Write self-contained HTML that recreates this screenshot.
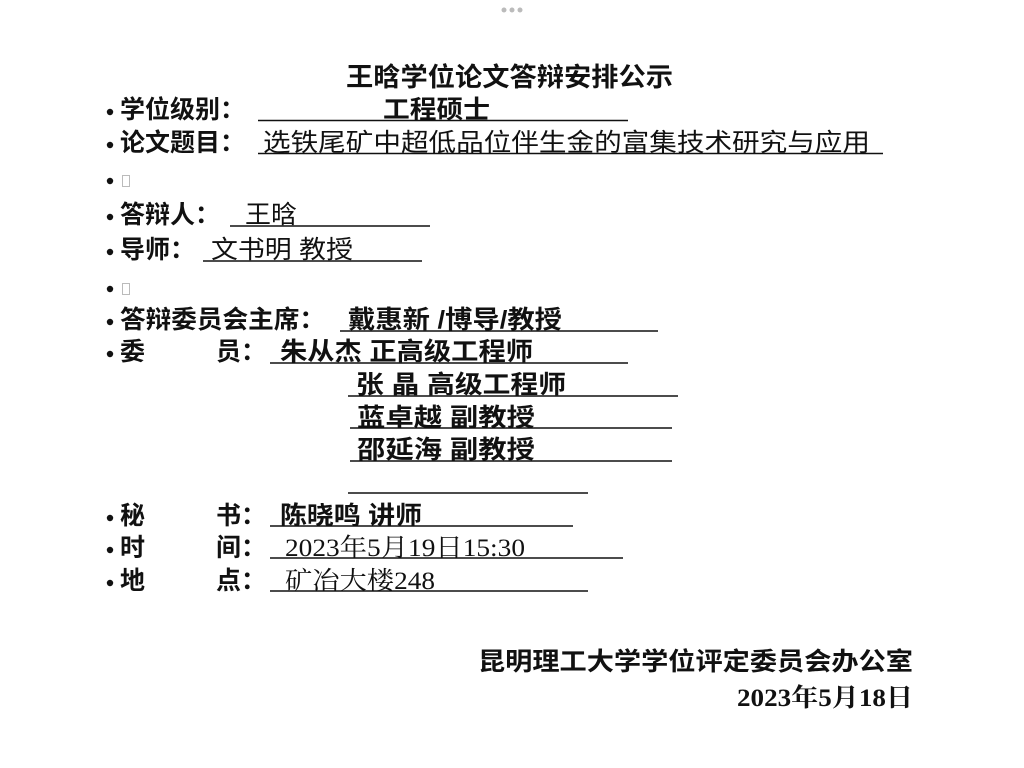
<!DOCTYPE html>
<html><head><meta charset="utf-8"><style>
html,body{margin:0;padding:0;background:#fff;width:1024px;height:768px;overflow:hidden}
svg{display:block}
text{font-family:"Liberation Sans","Noto Sans CJK SC",sans-serif;fill:#111}
.b{font-weight:bold}
.s{font-family:"Liberation Serif","Noto Serif CJK SC",serif}
</style></head><body>
<svg width="1024" height="768" viewBox="0 0 1024 768" xmlns="http://www.w3.org/2000/svg">
<g fill="#bbb"><circle cx="504" cy="10" r="2.5"/><circle cx="512" cy="10" r="2.5"/><circle cx="520" cy="10" r="2.5"/></g>
<text x="346" y="86" font-size="26" class="b" textLength="327" lengthAdjust="spacingAndGlyphs">王晗学位论文答辩安排公示</text>
<g fill="#111">
<circle cx="110" cy="112" r="3.2"/><circle cx="110" cy="145" r="3.2"/><circle cx="110" cy="181" r="3.2"/>
<circle cx="110" cy="217" r="3.2"/><circle cx="110" cy="252" r="3.2"/><circle cx="110" cy="289" r="3.2"/>
<circle cx="110" cy="322" r="3.2"/><circle cx="110" cy="354" r="3.2"/><circle cx="110" cy="518" r="3.2"/>
<circle cx="110" cy="550" r="3.2"/><circle cx="110" cy="583" r="3.2"/>
</g>
<rect x="122.5" y="175.5" width="7" height="11" fill="none" stroke="#bbb"/>
<rect x="122.5" y="283.5" width="7" height="11" fill="none" stroke="#bbb"/>
<g font-size="25" class="b">
<text x="120" y="118" textLength="125" lengthAdjust="spacingAndGlyphs">学位级别：</text>
<text x="120" y="151" textLength="125" lengthAdjust="spacingAndGlyphs">论文题目：</text>
<text x="120" y="223" textLength="100" lengthAdjust="spacingAndGlyphs">答辩人：</text>
<text x="120" y="258" textLength="75" lengthAdjust="spacingAndGlyphs">导师：</text>
<text x="120" y="328" textLength="205" lengthAdjust="spacingAndGlyphs">答辩委员会主席：</text>
<text x="120" y="360">委</text><text x="216" y="360">员：</text>
<text x="120" y="524">秘</text><text x="216" y="524">书：</text>
<text x="120" y="556">时</text><text x="216" y="556">间：</text>
<text x="120" y="589">地</text><text x="216" y="589">点：</text>
<text x="383" y="118" textLength="107" lengthAdjust="spacingAndGlyphs">工程硕士</text>
<text x="348" y="328" textLength="214" lengthAdjust="spacingAndGlyphs">戴惠新 /博导/教授</text>
<text x="280" y="360" textLength="253" lengthAdjust="spacingAndGlyphs">朱从杰 正高级工程师</text>
<text x="356" y="393" textLength="210" lengthAdjust="spacingAndGlyphs">张 晶  高级工程师</text>
<text x="357" y="426" textLength="178" lengthAdjust="spacingAndGlyphs">蓝卓越  副教授</text>
<text x="357" y="458" textLength="178" lengthAdjust="spacingAndGlyphs">邵延海  副教授</text>
<text x="280" y="524" textLength="142" lengthAdjust="spacingAndGlyphs">陈晓鸣 讲师</text>
<text x="478" y="670" textLength="435" lengthAdjust="spacingAndGlyphs">昆明理工大学学位评定委员会办公室</text>
</g>
<g font-size="25">
<text x="263" y="151" textLength="607" lengthAdjust="spacingAndGlyphs">选铁尾矿中超低品位伴生金的富集技术研究与应用</text>
<text x="245" y="223" textLength="52" lengthAdjust="spacingAndGlyphs">王晗</text>
<text x="211" y="258" textLength="142" lengthAdjust="spacingAndGlyphs">文书明 教授</text>
<text x="285" y="556" class="s" textLength="240" lengthAdjust="spacingAndGlyphs">2023年5月19日15:30</text>
<text x="285" y="589" class="s" textLength="150" lengthAdjust="spacingAndGlyphs">矿冶大楼248</text>
</g>
<text x="737" y="706" font-size="25" class="b s" textLength="176" lengthAdjust="spacingAndGlyphs">2023年5月18日</text>
<g stroke="#111" stroke-width="1.6">
<line x1="258" y1="120.5" x2="628" y2="120.5"/>
<line x1="258" y1="153.5" x2="883" y2="153.5"/>
<line x1="230" y1="226" x2="430" y2="226"/>
<line x1="203" y1="261" x2="422" y2="261"/>
<line x1="340" y1="331" x2="658" y2="331"/>
<line x1="270" y1="363" x2="628" y2="363"/>
<line x1="348" y1="396" x2="678" y2="396"/>
<line x1="350" y1="428" x2="672" y2="428"/>
<line x1="350" y1="461" x2="672" y2="461"/>
<line x1="348" y1="493" x2="588" y2="493"/>
<line x1="270" y1="526" x2="573" y2="526"/>
<line x1="270" y1="558" x2="623" y2="558"/>
<line x1="270" y1="591" x2="588" y2="591"/>
</g>
</svg>
</body></html>
